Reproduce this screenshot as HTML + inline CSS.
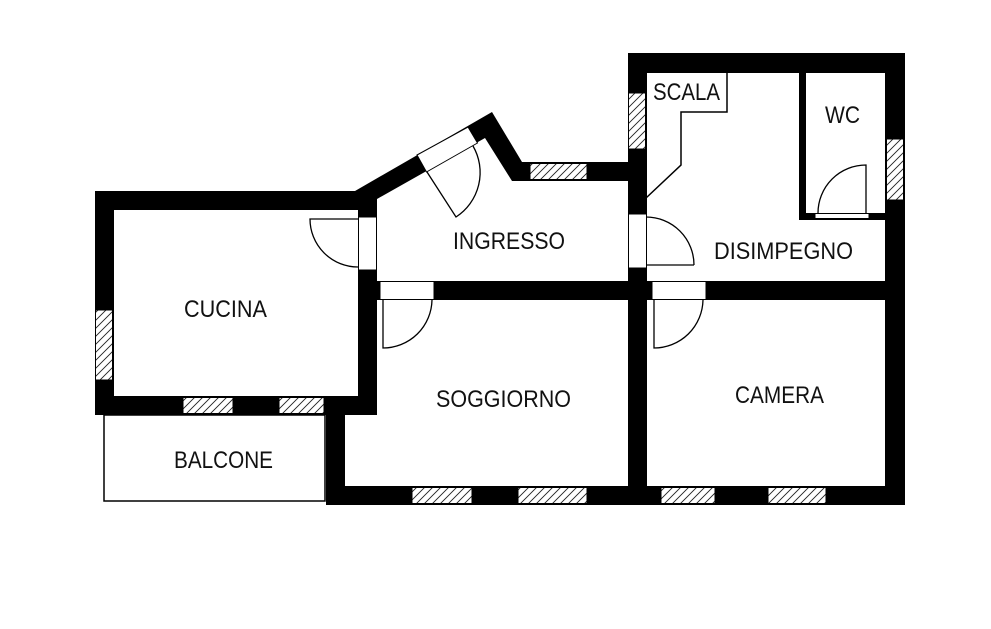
<!DOCTYPE html>
<html><head><meta charset="utf-8"><style>
html,body{margin:0;padding:0;background:#fff;}
svg{display:block;}
text{font-family:"Liberation Sans",sans-serif;font-size:24px;fill:#111;}
</style></head><body>
<svg width="991" height="629" viewBox="0 0 991 629" xmlns="http://www.w3.org/2000/svg">
<defs>
<pattern id="h" patternUnits="userSpaceOnUse" width="8" height="8">
<rect width="8" height="8" fill="#fff"/>
<path d="M-2,10 L10,-2 M-2,2 L2,-2 M6,10 L10,6" stroke="#222" stroke-width="0.9"/>
</pattern>
</defs>
<rect x="104" y="415" width="221" height="86" fill="none" stroke="#000" stroke-width="1.5"/>
<g fill="#000">
<rect x="95" y="191" width="282" height="19"/>
<polygon points="355,191 492,112 522,162 647,162 647,181 512,181 485,138 377,199 358,210"/>
<rect x="95" y="191" width="19" height="224"/>
<rect x="95" y="396" width="282" height="19"/>
<rect x="358" y="191" width="19" height="224"/>
<rect x="326" y="396" width="19" height="109"/>
<rect x="326" y="486" width="579" height="19"/>
<rect x="885" y="53" width="20" height="452"/>
<rect x="628" y="53" width="277" height="20"/>
<rect x="628" y="53" width="19" height="452"/>
<rect x="358" y="281" width="547" height="19"/>
<rect x="799" y="73" width="7" height="147"/>
<rect x="799" y="213" width="86" height="7"/>
</g>
<g fill="#fff" stroke="#000" stroke-width="1">
<rect x="358.5" y="217" width="18" height="53"/>
<rect x="380" y="281.5" width="54" height="18"/>
<rect x="652" y="281.5" width="54" height="18"/>
<rect x="628.5" y="214" width="18" height="54"/>
<rect x="815" y="213.5" width="54" height="5"/>
<polygon points="417,155 468,127 477.5,143 426.5,172"/>
</g>
<g fill="url(#h)" stroke="#000" stroke-width="1">
<rect x="95.5" y="310" width="17" height="70"/>
<rect x="183" y="397.5" width="50" height="16"/>
<rect x="279" y="397.5" width="45" height="16"/>
<rect x="530" y="163.5" width="57" height="16"/>
<rect x="628.5" y="93" width="17" height="56"/>
<rect x="886.5" y="139" width="17" height="61"/>
<rect x="412" y="487.5" width="60" height="16"/>
<rect x="518" y="487.5" width="69" height="16"/>
<rect x="661" y="487.5" width="54" height="16"/>
<rect x="768" y="487.5" width="58" height="16"/>
</g>
<g fill="none" stroke="#000" stroke-width="1.3">
<path d="M358,219 L310,219 A48,48 0 0 0 358,267"/>
<path d="M383,300 L383,348 A49,49 0 0 0 432,300"/>
<path d="M654,300 L654,348 A49,49 0 0 0 703,300"/>
<path d="M646,265 L694,265 M646,217 A48,48 0 0 1 694,265"/>
<path d="M866,213 L866,165 A48,48 0 0 0 818,213"/>
<path d="M427,172 L456,217 A53,53 0 0 0 473,146"/>
<polyline points="727,73 727,112 681,112 681,165 646,198" stroke-width="1.5"/>
</g>
<text x="453" y="249" textLength="112" lengthAdjust="spacingAndGlyphs">INGRESSO</text>
<text x="714" y="259" textLength="139" lengthAdjust="spacingAndGlyphs">DISIMPEGNO</text>
<text x="184" y="317" textLength="83" lengthAdjust="spacingAndGlyphs">CUCINA</text>
<text x="174" y="468" textLength="99" lengthAdjust="spacingAndGlyphs">BALCONE</text>
<text x="436" y="407" textLength="135" lengthAdjust="spacingAndGlyphs">SOGGIORNO</text>
<text x="735" y="403" textLength="89" lengthAdjust="spacingAndGlyphs">CAMERA</text>
<text x="653" y="100" textLength="67" lengthAdjust="spacingAndGlyphs">SCALA</text>
<text x="825" y="123" textLength="35" lengthAdjust="spacingAndGlyphs">WC</text>
</svg>
</body></html>
